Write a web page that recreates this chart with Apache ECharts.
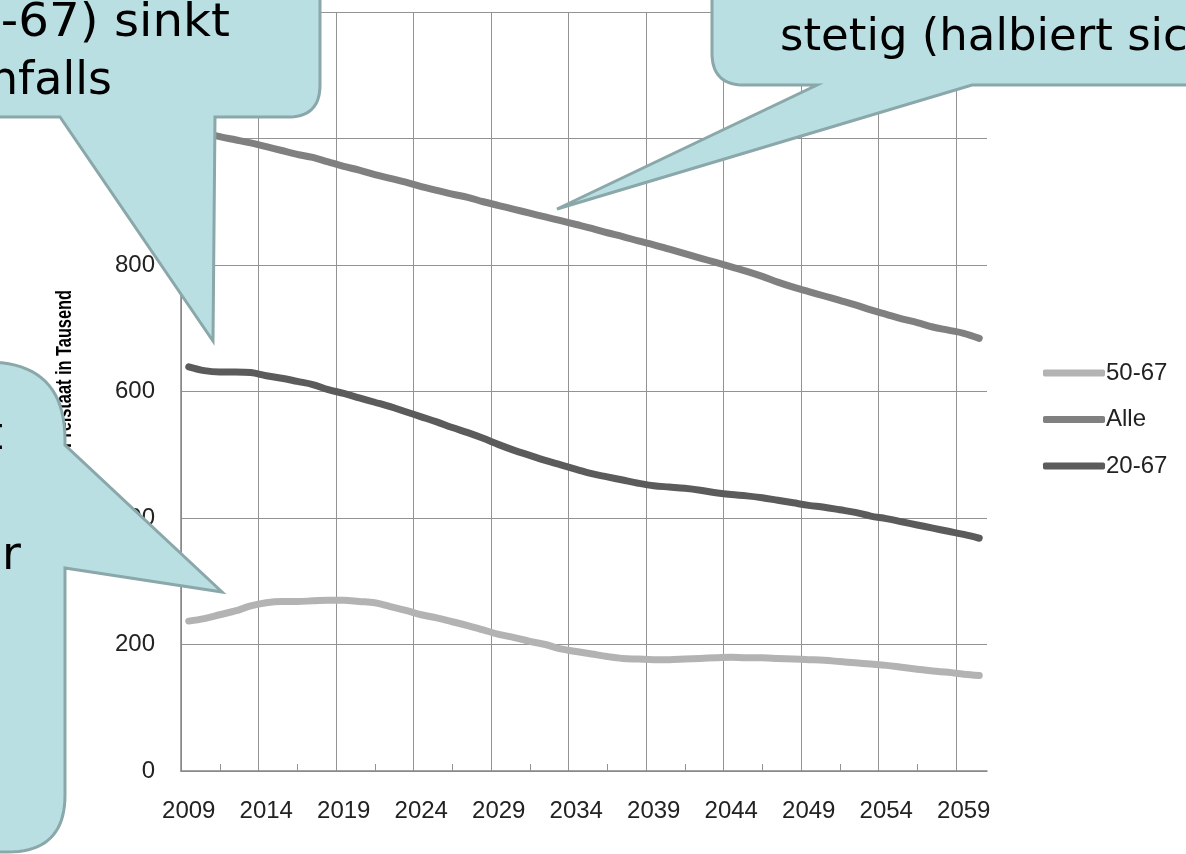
<!DOCTYPE html>
<html><head><meta charset="utf-8">
<script src="https://cdn.jsdelivr.net/npm/echarts@6/dist/echarts.min.js"></script>
<style>html,body{margin:0;padding:0;background:#fff;}#c{width:1186px;height:854px;}</style>
</head><body><div id="c"></div>
<script>
const years = ['2009','2010','2011','2012','2013','2014','2015','2016','2017','2018','2019','2020','2021','2022','2023','2024','2025','2026','2027','2028','2029','2030','2031','2032','2033','2034','2035','2036','2037','2038','2039','2040','2041','2042','2043','2044','2045','2046','2047','2048','2049','2050','2051','2052','2053','2054','2055','2056','2057','2058','2059','2060'];
const s5067 = [237,241,247,253,261,266,268,268,269,270,270,268,266,260,254,247,242,236,230,223,216,211,205,200,193,189,185,181,178,177,176,176,177,178,179,180,179,179,178,177,176,175,173,171,169,167,164,161,158,156,153,151];
const sAlle = [1015,1009,1003,998,993,987,981,975,970,963,956,950,943,937,931,924,918,912,907,900,894,888,882,876,870,864,858,851,845,838,832,825,818,811,804,797,790,782,773,765,758,751,744,737,729,722,715,709,702,697,692,684];
const s2067 = [639,633,631,631,630,625,621,616,611,603,597,590,583,576,568,560,552,543,535,526,516,507,499,491,484,477,470,465,460,455,451,449,447,444,440,437,435,432,428,424,420,417,413,409,403,399,394,389,384,379,374,368];
const seriesNames = ['50-67','Alle','20-67'];
const yAxisTitle = 'Personen im Freistaat in Tausend';

function roundPoly(verts){
  const out=[]; const n=verts.length;
  for(let i=0;i<n;i++){
    const x=verts[i][0], y=verts[i][1], r=verts[i][2];
    if(!r){out.push([x,y]);continue;}
    const p=verts[(i-1+n)%n], q=verts[(i+1)%n];
    const d1=Math.hypot(p[0]-x,p[1]-y), d2=Math.hypot(q[0]-x,q[1]-y);
    const a=[x+(p[0]-x)/d1*r, y+(p[1]-y)/d1*r];
    const b=[x+(q[0]-x)/d2*r, y+(q[1]-y)/d2*r];
    for(let t=0;t<=20;t++){
      const u=t/20;
      out.push([(1-u)*(1-u)*a[0]+2*(1-u)*u*x+u*u*b[0],(1-u)*(1-u)*a[1]+2*(1-u)*u*y+u*u*b[1]]);
    }
  }
  return out;
}
const bubbleStyle = {fill:'#b9dfe3', stroke:'#8aa7a9', lineWidth:3};
const c1 = roundPoly([[-30,-30,0],[320,-30,0],[320,117,32],[215,117,0],[213,341,0],[60,117,0],[-30,117,0]]);
const c2 = roundPoly([[712,-30,0],[1220,-30,0],[1220,85,0],[972,85,0],[557,209,0],[817,85,0],[712,85,32]]);
const c3 = roundPoly([[-30,362,0],[65,362,78],[65,445,0],[222,592,0],[65,568,0],[65,852,57],[-30,852,0]]);
function txt(text,x,y,align,sx,size){
  return {type:'text', z:101, x:x, y:y, scaleX:sx||1,
    style:{text:text, x:0, y:0, textAlign:align, textVerticalAlign:'middle', font:(size||46)+'px "DejaVu Sans"', fill:'#000'}};
}

const chart = echarts.init(document.getElementById('c'), null, {renderer:'canvas'});
const gridColor = '#939393';
const vColors = [gridColor,gridColor,gridColor,gridColor,gridColor,gridColor,gridColor,gridColor,gridColor,gridColor,gridColor,'rgba(0,0,0,0)'];
chart.setOption({
  animation:false,
  backgroundColor:'#ffffff',
  grid:{left:181, right:199, top:8, bottom:83},
  legend:{
    orient:'vertical', left:1038, top:356, itemWidth:62, itemHeight:7, itemGap:22.5,
    icon:'roundRect', data:seriesNames,
    textStyle:{fontSize:24, color:'#222', fontFamily:'Liberation Sans', lineHeight:21, padding:[0,0,0,-4]}
  },
  xAxis:[{
    type:'category', data:years, boundaryGap:true,
    axisLine:{lineStyle:{color:'#868686', width:1.5}},
    axisTick:{show:false},
    axisLabel:{interval:4, fontSize:24, color:'#222', margin:28, fontFamily:'Liberation Sans'},
    splitLine:{show:true, interval:4, showMaxLine:false, lineStyle:{color:vColors, width:1}}
  },{
    type:'category', data:years, boundaryGap:true, position:'bottom', gridIndex:0,
    axisLine:{show:false}, axisLabel:{show:false}, splitLine:{show:false},
    axisTick:{show:true, alignWithLabel:true, inside:true, length:7,
      interval:function(i){return i%5===2;}, lineStyle:{color:gridColor, width:1}}
  }],
  yAxis:{
    type:'value', min:0, max:1200, interval:200,
    axisLine:{show:true, lineStyle:{color:'#868686', width:1.5}},
    axisTick:{show:false},
    axisLabel:{fontSize:24, color:'#222', margin:26, fontFamily:'Liberation Sans'},
    splitLine:{lineStyle:{color:gridColor, width:1}}
  },
  series:[
    {name:seriesNames[0], type:'line', data:s5067, smooth:0.35, symbol:'none',
      lineStyle:{width:7, color:'#b3b3b3', cap:'round'}, itemStyle:{color:'#b3b3b3'}},
    {name:seriesNames[1], type:'line', data:sAlle, smooth:0.35, symbol:'none',
      lineStyle:{width:7, color:'#808080', cap:'round'}, itemStyle:{color:'#808080'}},
    {name:seriesNames[2], type:'line', data:s2067, smooth:0.35, symbol:'none',
      lineStyle:{width:7, color:'#5b5b5b', cap:'round'}, itemStyle:{color:'#5b5b5b'}}
  ],
  graphic:[
    {type:'text', x:65, y:290, rotation:Math.PI/2, scaleX:0.86, scaleY:1.15, z:50,
      style:{text:yAxisTitle, x:0, y:0, textAlign:'right', textVerticalAlign:'middle', font:'bold 19px "Liberation Sans"', fill:'#000'}},
    {type:'polygon', z:100, shape:{points:c1}, style:bubbleStyle},
    {type:'polygon', z:100, shape:{points:c2}, style:bubbleStyle},
    {type:'polygon', z:100, shape:{points:c3}, style:bubbleStyle},
    txt('Die Zahl der Erwerbsfähigen (20-67) sinkt', 230, 24, 'right', 1.05),
    txt('ebenfalls', 112, 82, 'right'),
    txt('stetig (halbiert sich fast)', 780, 38, 'left', 1, 45),
    txt('Die Zahl der Älteren (50-67) steigt', 3, 437, 'right'),
    txt('zunächst, sinkt', -10, 497, 'right'),
    txt('aber', 21, 557, 'right')
  ]
});
</script>
</body></html>
